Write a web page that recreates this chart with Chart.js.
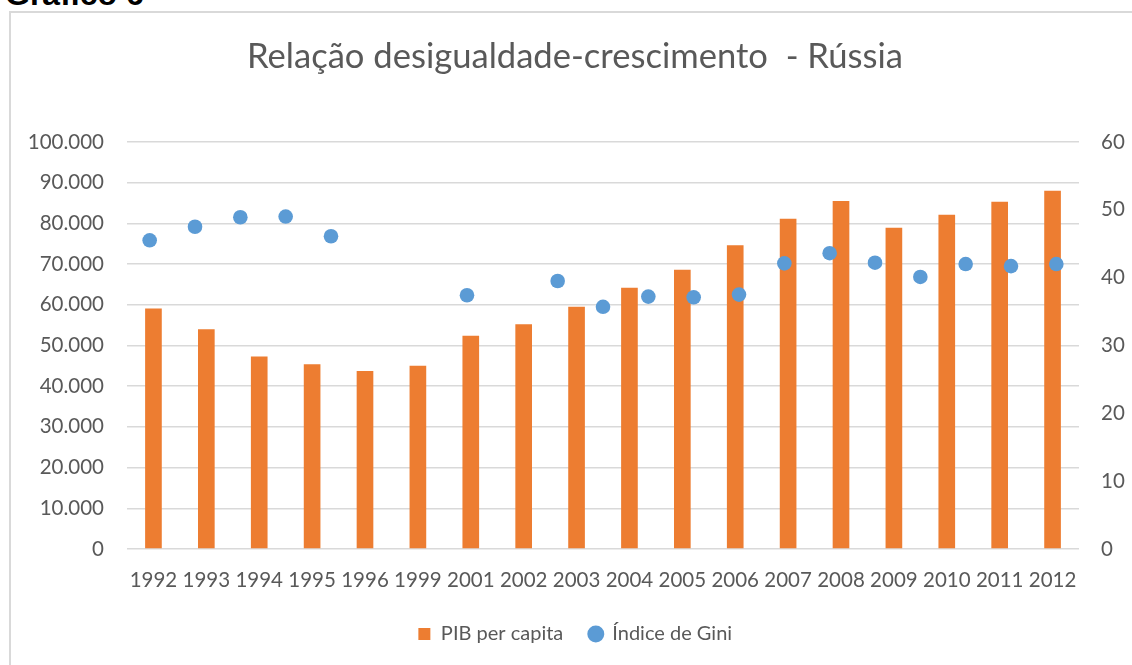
<!DOCTYPE html>
<html>
<head>
<meta charset="utf-8">
<script src="https://cdn.jsdelivr.net/npm/chart.js@4"></script>
<style>
  html, body { margin: 0; padding: 0; background: #fff; overflow: hidden; }
  body { width: 1132px; height: 665px; position: relative; }
  .caption { position: absolute; left: 5px; top: -22px; font: bold 32px/32px "Liberation Sans", Arial, sans-serif; color: #000; }
  .frame { position: absolute; left: 9px; top: 11px; width: 1200px; height: 700px; border-left: 2px solid #d9d9d9; border-top: 2px solid #d9d9d9; }
  .wrap { position: absolute; left: 9px; top: 11px; width: 1132px; height: 665px; }
</style>
</head>
<body>
<div class="caption">Gráfico 6</div>
<div class="frame"></div>
<div class="wrap"><canvas id="chart"></canvas></div>
<script>
// bar categories and PIB per capita
const years = ['1992', '1993', '1994', '1995', '1996', '1999', '2001', '2002', '2003',
               '2004', '2005', '2006', '2007', '2008', '2009', '2010', '2011', '2012'];
const pibPerCapita = [59100, 54000, 47300, 45400, 43700, 45000, 52400, 55200, 59500,
                      64200, 68600, 74600, 81100, 85500, 78900, 82100, 85300, 88000];

// Gini points sit on their own (hidden) axis of 21 slots
const giniSlots = ['1992', '1993', '1994', '1995', '1996', '1997', '1998', '1999', '2000', '2001', '2002',
                   '2003', '2004', '2005', '2006', '2007', '2008', '2009', '2010', '2011', '2012'];
const gini = [45.5, 47.5, 48.9, 49.0, 46.1, null, null, 37.4, null, 39.5, 35.7,
              37.2, 37.1, 37.5, 42.1, 43.6, 42.2, 40.1, 42.0, 41.7, 42.0];

const leftTicks = [0, 10000, 20000, 30000, 40000, 50000, 60000, 70000, 80000, 90000, 100000];
const rightTicks = [0, 10, 20, 30, 40, 50, 60];

const labelColor = '#595959';
const font = "Lato, 'Open Sans', sans-serif";

function fmtThousands(v) {
    return String(v).replace(/\B(?=(\d{3})+(?!\d))/g, '.');
}

const ctx = document.getElementById('chart').getContext('2d');
new Chart(ctx, {
    type: 'bar',
    data: {
        labels: years,
        datasets: [{
            type: 'bar',
            label: 'PIB per capita',
            data: pibPerCapita,
            backgroundColor: '#ED7D31',
            borderWidth: 0,
            grouped: false,
            barPercentage: 0.315,
            categoryPercentage: 1,
            pointStyle: 'rect',
            xAxisID: 'x',
            yAxisID: 'y',
            order: 2
        }, {
            type: 'line',
            label: 'Índice de Gini',
            data: gini,
            showLine: false,
            pointStyle: 'circle',
            pointRadius: 7.3,
            pointBackgroundColor: '#5B9BD5',
            pointBorderColor: '#5B9BD5',
            pointBorderWidth: 0,
            backgroundColor: '#5B9BD5',
            borderColor: '#5B9BD5',
            xAxisID: 'x2',
            yAxisID: 'y2',
            order: 1
        }]
    },
    options: {
        responsive: true,
        maintainAspectRatio: false,
        animation: false,
        layout: { padding: { top: 0, left: 0, right: 0, bottom: 22 } },
        scales: {
            x: {
                type: 'category',
                offset: true,
                grid: { display: false, drawTicks: false },
                border: { display: false },
                ticks: { color: labelColor, font: { family: font, size: 20.5 }, padding: 19, maxRotation: 0, autoSkip: false },
                afterFit: (axis) => { axis.height = 49; }
            },
            x2: {
                type: 'category',
                labels: giniSlots,
                offset: true,
                display: false
            },
            y: {
                position: 'left',
                min: 0,
                max: 100000,
                afterBuildTicks: (axis) => { axis.ticks = leftTicks.map(v => ({ value: v })); },
                grid: { color: '#d9d9d9', lineWidth: 1.5, drawTicks: false },
                border: { display: false },
                ticks: { color: labelColor, font: { family: font, size: 20.5 }, padding: 23, callback: (v) => fmtThousands(v) },
                afterFit: (axis) => { axis.width = 118; }
            },
            y2: {
                position: 'right',
                min: 0,
                max: 60,
                afterBuildTicks: (axis) => { axis.ticks = rightTicks.map(v => ({ value: v })); },
                grid: { display: false, drawTicks: false },
                border: { display: false },
                ticks: { color: labelColor, font: { family: font, size: 20.5 }, padding: 22 },
                afterFit: (axis) => { axis.width = 62; }
            }
        },
        plugins: {
            title: {
                display: true,
                text: 'Relação desigualdade-crescimento  - Rússia',
                color: labelColor,
                font: { family: font, size: 34.6, weight: 'normal' },
                padding: { top: 25.2, bottom: 64.2 }
            },
            legend: {
                position: 'bottom',
                labels: {
                    usePointStyle: true,
                    boxWidth: 13,
                    boxHeight: 12,
                    padding: 26,
                    color: labelColor,
                    font: { family: font, size: 20 },
                    sort: (a, b) => a.datasetIndex - b.datasetIndex
                }
            },
            tooltip: { enabled: false }
        }
    }
});
</script>
</body>
</html>
